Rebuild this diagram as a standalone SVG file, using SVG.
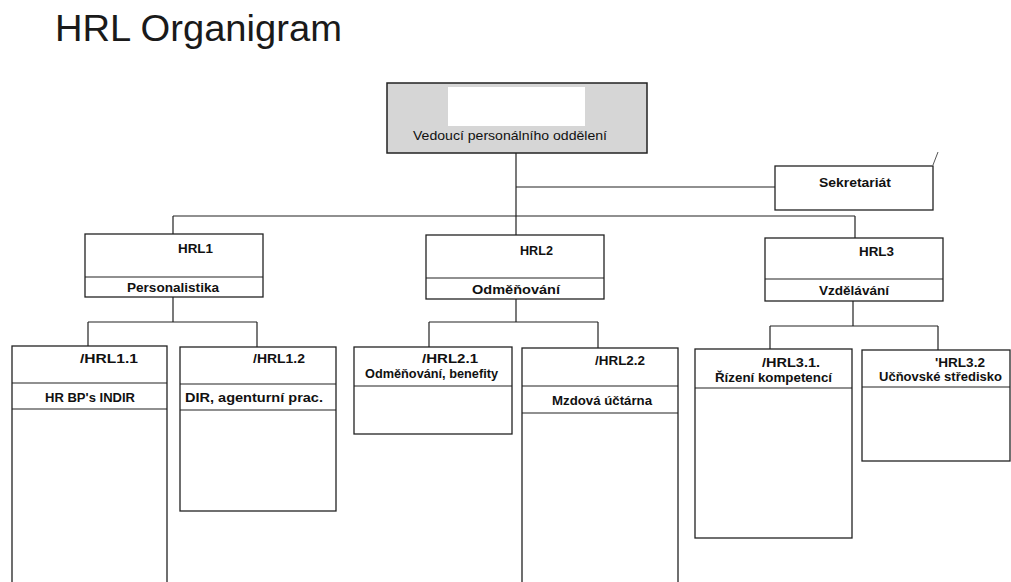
<svg xmlns="http://www.w3.org/2000/svg" width="1011" height="582" viewBox="0 0 1011 582">
<style>
.box{fill:#fff;stroke:#222;stroke-width:1.3}
.div{stroke:#222;stroke-width:1.2;fill:none}
.con{stroke:#222;stroke-width:1.2;fill:none}
.t{font-family:"Liberation Sans",Arial,sans-serif;font-weight:bold;font-size:13px;fill:#111}
.tn{font-family:"Liberation Sans",Arial,sans-serif;font-size:13px;fill:#111}
.title{font-family:"Liberation Sans",Arial,sans-serif;font-size:37px;fill:#1a1a1a}
</style>
<rect width="1011" height="582" fill="#fff"/>
<text class="title" x="55" y="41" textLength="287" lengthAdjust="spacingAndGlyphs">HRL Organigram</text>

<g id="connectors">
<path class="con" d="M516,153 V216 M516,187 H775 M173,216 H855 M173,216 V234 M516,216 V235 M855,216 V238"/>
<path class="con" d="M173,297 V322 M88,322 H257 M88,322 V346 M257,322 V347"/>
<path class="con" d="M516,299 V322 M429,322 H598 M429,322 V347 M598,322 V348"/>
<path class="con" d="M853,301 V326 M770,326 H938 M770,326 V349 M938,326 V350"/>
</g>

<g id="head">
<rect x="387" y="83" width="260" height="70" fill="#d6d6d6" stroke="#222" stroke-width="1.5"/>
<rect x="448" y="87" width="137" height="39" fill="#fff"/>
<text class="tn" x="413" y="140" textLength="194" lengthAdjust="spacingAndGlyphs">Vedoucí personálního oddělení</text>
</g>

<g id="sekretariat">
<rect class="box" x="775" y="166" width="158" height="44"/>
<text class="t" x="819" y="187" textLength="72" lengthAdjust="spacingAndGlyphs">Sekretariát</text>
<line x1="933" y1="165" x2="938" y2="152" stroke="#555" stroke-width="1"/>
</g>

<g id="hrl1">
<rect class="box" x="85" y="234" width="178" height="63"/>
<line class="div" x1="85" y1="277" x2="263" y2="277"/>
<text class="t" x="178" y="253" textLength="35" lengthAdjust="spacingAndGlyphs">HRL1</text>
<text class="t" x="127" y="292" textLength="92" lengthAdjust="spacingAndGlyphs">Personalistika</text>
</g>

<g id="hrl2">
<rect class="box" x="426" y="235" width="178" height="64"/>
<line class="div" x1="426" y1="278" x2="604" y2="278"/>
<text class="t" x="520" y="255" textLength="33" lengthAdjust="spacingAndGlyphs">HRL2</text>
<text class="t" x="472" y="294" textLength="88" lengthAdjust="spacingAndGlyphs">Odměňování</text>
</g>

<g id="hrl3">
<rect class="box" x="765" y="238" width="178" height="63"/>
<line class="div" x1="765" y1="279" x2="943" y2="279"/>
<text class="t" x="859" y="256" textLength="35" lengthAdjust="spacingAndGlyphs">HRL3</text>
<text class="t" x="819" y="295" textLength="70" lengthAdjust="spacingAndGlyphs">Vzdělávání</text>
</g>

<g id="hrl1-1">
<rect class="box" x="12" y="346" width="155" height="250"/>
<path class="div" d="M12,383 H167 M12,409 H167"/>
<text class="t" x="80" y="363" textLength="58" lengthAdjust="spacingAndGlyphs">/HRL1.1</text>
<text class="t" x="45" y="402" textLength="90" lengthAdjust="spacingAndGlyphs">HR BP's INDIR</text>
</g>

<g id="hrl1-2">
<rect class="box" x="180" y="347" width="156" height="164"/>
<path class="div" d="M180,384 H336 M180,410 H336"/>
<text class="t" x="253" y="363" textLength="52" lengthAdjust="spacingAndGlyphs">/HRL1.2</text>
<text class="t" x="185" y="402" textLength="138" lengthAdjust="spacingAndGlyphs">DIR, agenturní prac.</text>
</g>

<g id="hrl2-1">
<rect class="box" x="354" y="347" width="158" height="87"/>
<path class="div" d="M354,386 H512"/>
<text class="t" x="422" y="363" textLength="56" lengthAdjust="spacingAndGlyphs">/HRL2.1</text>
<text class="t" x="365" y="378" textLength="133" lengthAdjust="spacingAndGlyphs">Odměňování, benefity</text>
</g>

<g id="hrl2-2">
<rect class="box" x="522" y="348" width="156" height="250"/>
<path class="div" d="M522,386 H678 M522,413 H678"/>
<text class="t" x="595" y="365" textLength="50" lengthAdjust="spacingAndGlyphs">/HRL2.2</text>
<text class="t" x="552" y="405" textLength="100" lengthAdjust="spacingAndGlyphs">Mzdová účtárna</text>
</g>

<g id="hrl3-1">
<rect class="box" x="695" y="349" width="157" height="189"/>
<path class="div" d="M695,388 H852"/>
<text class="t" x="762" y="367" textLength="58" lengthAdjust="spacingAndGlyphs">/HRL3.1.</text>
<text class="t" x="715" y="382" textLength="117" lengthAdjust="spacingAndGlyphs">Řízení kompetencí</text>
</g>

<g id="hrl3-2">
<rect class="box" x="862" y="350" width="148" height="111"/>
<path class="div" d="M862,387 H1010"/>
<text class="t" x="935" y="367" textLength="50" lengthAdjust="spacingAndGlyphs">'HRL3.2</text>
<text class="t" x="879" y="381" textLength="123" lengthAdjust="spacingAndGlyphs">Učňovské středisko</text>
</g>
</svg>
